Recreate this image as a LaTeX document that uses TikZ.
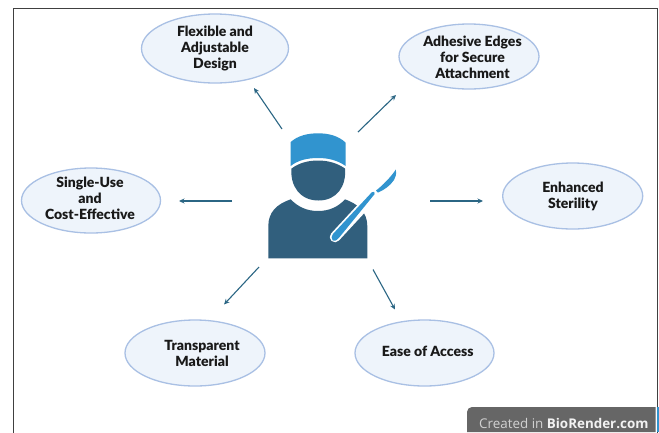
\documentclass[tikz,border=0pt]{standalone}
\usepackage{fontspec}
\setmainfont{Lato}[BoldFont={Lato Black}]
\newfontfamily\brfont{Open Sans}
\definecolor{elfill}{HTML}{EEF4FB}
\definecolor{eldraw}{HTML}{A9C0E4}
\definecolor{arrowc}{HTML}{2B6684}
\definecolor{capblue}{HTML}{3194CF}
\definecolor{bodyblue}{HTML}{315F7D}
\definecolor{banner}{HTML}{666666}
\tikzset{
  bubble/.style={ellipse,draw=eldraw,fill=elfill,line width=1.3pt,inner sep=0pt},
  bubbletext/.style={inner sep=0pt,align=center,font=\fontsize{14}{16}\selectfont\bfseries,text=black!90},
  spoke/.style={draw=arrowc,line width=1.1pt,-{Stealth[length=5.5pt,width=5pt]}}
}
\usetikzlibrary{shapes.geometric,arrows.meta}
\begin{document}
\begin{tikzpicture}[x=1pt,y=-1pt]
\useasboundingbox (0,0) rectangle (659,432);
\fill[white] (0,0) rectangle (659,432);
\draw[black!75,line width=0.9pt] (13.5,440) -- (13.5,8.5) -- (657,8.5) -- (657,440);

\node[bubble,minimum width=147pt,minimum height=69pt] (flex) at (215,48.5) {};
\node[bubbletext] (flext) at (215,48) {Flexible and\\Adjustable\\Design};
\node[bubble,minimum width=140pt,minimum height=65pt] (adh) at (469,56.5) {};
\node[bubbletext] (adht) at (472.5,57.5) {Adhesive Edges\\for Secure\\Attachment};
\node[bubble,minimum width=140pt,minimum height=66pt] (ster) at (572.7,196) {};
\node[bubbletext] (stert) at (573,196.5) {Enhanced\\Sterility};
\node[bubble,minimum width=139pt,minimum height=65pt] (single) at (91,200.5) {};
\node[bubbletext] (singlet) at (90,198.5) {Single-Use\\and\\Cost-Effective};
\node[bubble,minimum width=140pt,minimum height=66pt] (trans) at (195,353) {};
\node[bubbletext] (transt) at (202,353) {Transparent\\Material};
\node[bubble,minimum width=139pt,minimum height=66pt] (ease) at (424.5,353) {};
\node[bubbletext] (easet) at (427.7,351) {Ease of Access};

\coordinate (c1s) at (282,129); \coordinate (c1e) at (254,88);
\coordinate (c2s) at (358,132); \coordinate (c2e) at (396,95);
\coordinate (c3s) at (232,201); \coordinate (c3e) at (179,201);
\coordinate (c4s) at (430,201); \coordinate (c4e) at (483,201);
\coordinate (c5s) at (259,267); \coordinate (c5e) at (224,304.5);
\coordinate (c6s) at (373,269.5); \coordinate (c6e) at (395,309.5);
\draw[spoke] (c1s) -- (c1e);
\draw[spoke] (c2s) -- (c2e);
\draw[spoke] (c3s) -- (c3e);
\draw[spoke] (c4s) -- (c4e);
\draw[spoke] (c5s) -- (c5e);
\draw[spoke] (c6s) -- (c6e);

% surgeon: body
\fill[bodyblue] (268.3,258.3) -- (367.3,258.3) -- (367.3,226)
  .. controls (367.3,212) and (358,204) .. (345,199.3)
  .. controls (338,207) and (329,211) .. (318,211)
  .. controls (307,211) and (298,207) .. (290.7,199.3)
  .. controls (277,204) and (268.3,212) .. (268.3,226) -- cycle;
% head
\fill[bodyblue] (291.5,168.5)
  .. controls (299,163) and (308,160.5) .. (318,160.5)
  .. controls (328,160.5) and (337,163) .. (345,168.5)
  .. controls (346.5,186) and (337,200.5) .. (318.5,200.5)
  .. controls (300,200.5) and (290,186) .. (291.5,168.5) -- cycle;
% cap
\fill[capblue] (290.7,166) -- (290.7,142)
  .. controls (298,135.5) and (308,133.3) .. (318,133.3)
  .. controls (328,133.3) and (338,135.5) .. (345.5,142.5)
  -- (345.7,166)
  .. controls (337,160) and (328,158) .. (318,158)
  .. controls (308,158) and (298,160) .. (290.7,166) -- cycle;
% scalpel
\draw[white,line width=10.5pt,line cap=round] (335,237) -- (372,197);
\fill[capblue,rounded corners=1.5pt] (332,235) -- (373,191) -- (375.5,193) -- (338,239) -- (334,241.5) -- (331.5,239) -- cycle;
\fill[capblue] (376,190.5) .. controls (382,186) and (391,177) .. (395.8,169.5)
  .. controls (396.5,174) and (396,177) .. (394,180)
  .. controls (390,186) and (384,190) .. (378,192.5) -- cycle;

% watermark
\fill[banner] (467,432) -- (467,412) arc[start angle=180,end angle=270,radius=5] -- (655.5,407) -- (655.5,432) -- cycle;
\fill[capblue] (656.5,407) rectangle (659,432);
\node[anchor=base west,inner sep=0pt,font=\brfont\fontsize{13.4}{16}\selectfont,text=black!18] (wm) at (479,428)
  {Created in \textbf{\textcolor{white!95!black}{BioRender.com}}};
\end{tikzpicture}
\end{document}
